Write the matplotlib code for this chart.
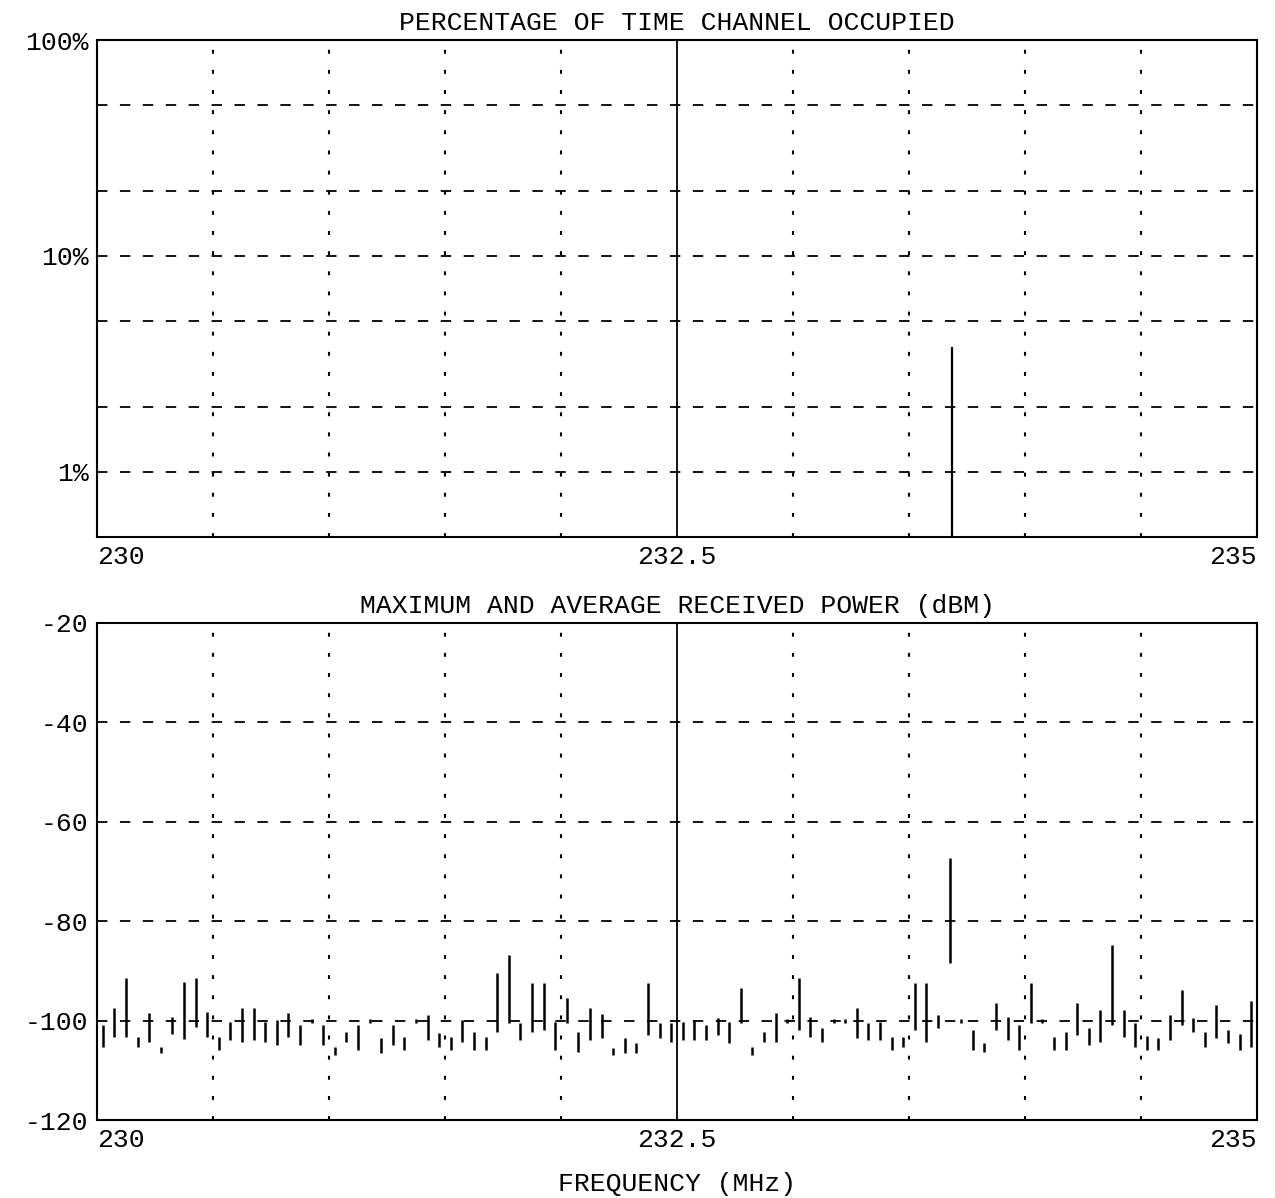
import numpy as np
import matplotlib
matplotlib.use("Agg")
import matplotlib.pyplot as plt

plt.rcParams['font.family'] = ['Liberation Mono', 'DejaVu Sans Mono']
plt.rcParams['lines.scale_dashes'] = False

# channel raster: 100 channels of 50 kHz between 230 and 235 MHz
freq = np.arange(230.025, 235.0, 0.05)

# received power per channel (dBm): top and bottom of each plotted stroke
p_max = [-100.9, -97.5, -91.4, -103.3, -98.5, -105.3, -99.3, -92.2, -91.4, -98.3,
         -103.3, -100.3, -97.5, -97.5, -100.3, -99.9, -98.5, -100.9, -99.6, -100.9,
         -105.3, -102.3, -100.9, -99.6, -103.5, -100.9, -103.3, -99.6, -98.9, -102.5,
         -103.3, -99.9, -102.3, -103.3, -90.4, -86.8, -100.5, -92.4, -92.4, -100.3,
         -95.4, -102.3, -97.5, -98.7, -105.5, -103.5, -104.5, -92.4, -100.5, -100.5,
         -100.3, -99.9, -100.9, -99.5, -100.3, -93.4, -105.3, -102.3, -98.5, -99.6,
         -91.4, -99.3, -101.5, -99.6, -99.6, -97.5, -100.5, -100.3, -103.3, -103.3,
         -92.4, -92.4, -98.9, -67.3, -99.6, -101.9, -104.5, -96.5, -99.3, -100.9,
         -92.4, -99.6, -103.3, -102.3, -96.5, -101.5, -97.9, -84.8, -97.9, -100.5,
         -103.1, -103.5, -98.9, -93.8, -99.5, -102.3, -96.9, -101.9, -102.7, -96.1]
p_avg = [-105.3, -103.3, -103.3, -105.3, -104.3, -106.5, -102.7, -103.7, -101.3, -103.3,
         -105.9, -103.9, -104.3, -103.9, -104.3, -104.9, -103.3, -104.9, -100.4, -104.9,
         -106.9, -104.3, -106.0, -100.4, -106.5, -104.9, -105.9, -100.4, -103.9, -105.3,
         -105.9, -104.3, -106.0, -106.0, -102.3, -100.5, -103.9, -102.3, -101.9, -106.0,
         -100.5, -106.3, -103.9, -103.5, -106.9, -106.5, -106.5, -102.9, -103.5, -104.3,
         -103.9, -103.9, -103.9, -102.9, -104.5, -100.5, -106.9, -104.3, -104.3, -100.4,
         -101.9, -103.3, -104.3, -100.4, -100.4, -103.5, -103.9, -103.9, -105.9, -105.3,
         -101.9, -104.3, -101.5, -88.4, -100.4, -105.9, -106.3, -101.9, -103.9, -106.0,
         -100.5, -100.4, -105.9, -106.0, -102.9, -104.9, -104.3, -100.9, -103.3, -105.3,
         -106.0, -105.9, -103.9, -100.9, -102.3, -105.3, -103.5, -104.5, -106.0, -105.3]

# occupancy (% of time) - only one channel shows activity
occ_freq = [233.685]
occ_pct = [3.8]

occ_grid = [1, 2, 5, 10, 20, 50]
occ_ticks = [1, 10, 100]
occ_ticklabels = ['1%', '10%', '100%']
pow_grid = [-100, -80, -60, -40]
pow_ticks = [-120, -100, -80, -60, -40, -20]
vgrid = [230.5, 231.0, 231.5, 232.0, 233.0, 233.5, 234.0, 234.5]
xticks = [230, 232.5, 235]
xticklabels = ['230', '232.5', '235']

W, H = 1275, 1198
fig = plt.figure(figsize=(W / 100, H / 100), dpi=100)
ax1 = fig.add_axes([97 / W, 1 - 537 / H, 1160 / W, 497 / H])
ax2 = fig.add_axes([97 / W, 1 - 1120 / H, 1160 / W, 497 / H])

dash = (0, (7.5, 9))
dot = (0, (2.8, 11.7))
fs = 19


def frame(ax):
    ax.set_xlim(230, 235)
    for s in ax.spines.values():
        s.set_linewidth(1.5)
    for v in vgrid:
        ax.axvline(v, color='k', lw=1.5, ls=dot, zorder=1)
    ax.axvline(232.5, color='k', lw=1.3, zorder=1)
    ax.set_xticks(xticks)
    lbls = ax.set_xticklabels(xticklabels, fontsize=fs)
    lbls[0].set_ha('left')
    lbls[2].set_ha('right')
    ax.tick_params(length=0, pad=6)
    ax.tick_params(axis='y', pad=6)


# top: percentage of time occupied
ax1.set_yscale('log')
ax1.set_ylim(0.5, 100)
frame(ax1)
for g in occ_grid:
    ax1.axhline(g, color='k', lw=1.3, ls=dash, zorder=1)
ax1.set_yticks(occ_ticks)
ax1.set_yticklabels(occ_ticklabels, fontsize=fs)
ax1.minorticks_off()
ax1.vlines(occ_freq, 0.5, occ_pct, color='k', lw=1.6, zorder=3)
ax1.set_title('PERCENTAGE OF TIME CHANNEL OCCUPIED', fontsize=fs, pad=7)

# bottom: maximum and average received power
ax2.set_ylim(-120, -20)
frame(ax2)
for g in pow_grid:
    ax2.axhline(g, color='k', lw=1.3, ls=dash, zorder=1)
ax2.set_yticks(pow_ticks)
ax2.set_yticklabels([str(t) for t in pow_ticks], fontsize=fs)
ax2.vlines(freq, p_avg, p_max, color='k', lw=1.8, zorder=3)
ax2.set_title('MAXIMUM AND AVERAGE RECEIVED POWER (dBM)', fontsize=fs, pad=7)
ax2.set_xlabel('FREQUENCY (MHz)', fontsize=fs, labelpad=14)

fig.savefig('out.png', dpi=100, facecolor='white')
